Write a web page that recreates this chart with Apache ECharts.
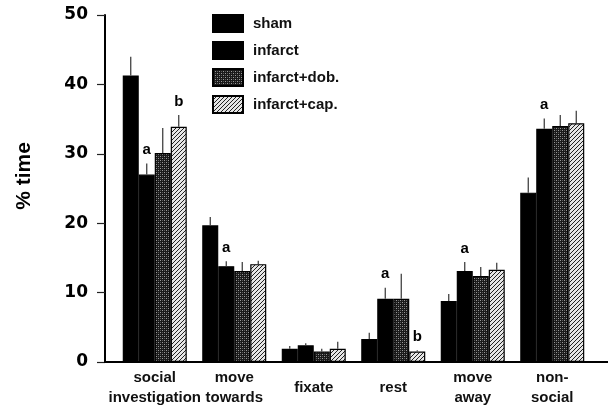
<!DOCTYPE html>
<html>
<head>
<meta charset="utf-8">
<script src="https://cdn.jsdelivr.net/npm/echarts@6/dist/echarts.min.js"></script>
<style>html,body{margin:0;padding:0;background:#fff;}#c{width:610px;height:411px;}</style>
</head>
<body>
<div id="c"></div>
<script>
const categories = ['social\ninvestigation', 'move\ntowards', 'fixate', 'rest', 'move\naway', 'non-\nsocial'];
const seriesNames = ['sham', 'infarct', 'infarct+dob.', 'infarct+cap.'];
const sham = [41.3, 19.7, 1.9, 3.3, 8.8, 24.4];
const shamErr = [2.7, 1.2, 0.4, 0.9, 1.0, 2.2];
const infarct = [27.0, 13.8, 2.4, 9.1, 13.1, 33.6];
const infarctErr = [1.6, 0.7, 0.3, 1.6, 1.3, 1.5];
const dob = [30.1, 13.1, 1.5, 9.1, 12.4, 34.0];
const dobErr = [3.6, 1.3, 0.4, 3.6, 1.3, 1.6];
const cap = [33.9, 14.1, 1.9, 1.5, 13.3, 34.4];
const capErr = [1.7, 0.5, 1.0, 0.2, 1.0, 1.8];
const shamSig = ['', '', '', '', '', ''];
const infarctSig = ['a', 'a', '', 'a', 'a', 'a'];
const dobSig = ['', '', '', '', '', ''];
const capSig = ['b', '', '', 'b', '', ''];
const yTicks = [0, 10, 20, 30, 40, 50];

function makeStipple() {
  const c = document.createElement('canvas');
  c.width = 4; c.height = 4;
  const g = c.getContext('2d');
  g.fillStyle = '#1a1a1a';
  g.fillRect(0, 0, 4, 4);
  g.fillStyle = '#9a9a9a';
  g.fillRect(0, 0, 1, 1);
  g.fillRect(2, 2, 1, 1);
  g.fillStyle = '#5a5a5a';
  g.fillRect(2, 0, 1, 1);
  g.fillRect(0, 2, 1, 1);
  return c;
}
function makeHatch() {
  const n = 4;
  const c = document.createElement('canvas');
  c.width = n; c.height = n;
  const g = c.getContext('2d');
  g.fillStyle = '#e6e6e6';
  g.fillRect(0, 0, n, n);
  g.fillStyle = '#222';
  for (let i = 0; i < n; i++) {
    g.fillRect(n - 1 - i, i, 1, 1);
  }
  return c;
}

const fills = [
  '#000',
  '#000',
  { image: makeStipple(), repeat: 'repeat' },
  { image: makeHatch(), repeat: 'repeat' }
];
const values = [sham, infarct, dob, cap];
const errs = [shamErr, infarctErr, dobErr, capErr];
const sigs = [shamSig, infarctSig, dobSig, capSig];
const BAR_W = 16;
const FONT = '"Liberation Sans", Arial, sans-serif';

const chart = echarts.init(document.getElementById('c'), null, { renderer: 'canvas' });

const series = [];
values.forEach((vals, s) => {
  series.push({
    name: seriesNames[s],
    type: 'bar',
    data: vals,
    barWidth: BAR_W,
    barGap: '0%',
    itemStyle: { color: fills[s], borderColor: '#000', borderWidth: 1.2 },
    emphasis: { disabled: true },
    z: 2
  });
});
values.forEach((vals, s) => {
  series.push({
    type: 'custom',
    data: vals.map((v, i) => [i, v, errs[s][i], i]),
    z: 4,
    silent: true,
    renderItem: function (params, api) {
      const idx = api.value(0);
      const v = api.value(1);
      const e = api.value(2);
      const p0 = api.coord([idx, v]);
      const p1 = api.coord([idx, v + e]);
      const x = p0[0] + (s - 1.5) * BAR_W;
      const children = [{
        type: 'line',
        shape: { x1: x, y1: p0[1], x2: x, y2: p1[1] },
        style: { stroke: '#333', lineWidth: 1.2 }
      }];
      const lab = sigs[s][params.dataIndex];
      if (lab) {
        children.push({
          type: 'text',
          style: {
            x: x, y: p1[1] - 6, text: lab,
            align: 'center', verticalAlign: 'bottom',
            font: 'bold 15px ' + FONT, fill: '#000'
          }
        });
      }
      return { type: 'group', children: children };
    }
  });
});

chart.setOption({
  animation: false,
  backgroundColor: '#fff',
  grid: { left: 115, right: 18, top: 15, bottom: 49, containLabel: false },
  legend: {
    data: seriesNames,
    orient: 'vertical',
    left: 212,
    top: 14,
    padding: 0,
    itemWidth: 30,
    itemHeight: 17,
    itemGap: 8,
    selectedMode: false,
    icon: 'rect',
    textStyle: { fontFamily: FONT, fontWeight: 'bold', fontSize: 15, color: '#111', padding: [0, 0, 0, 5] }
  },
  xAxis: {
    type: 'category',
    data: categories,
    axisLine: { show: false },
    axisTick: { show: false },
    axisLabel: {
      interval: 0,
      fontFamily: FONT,
      fontWeight: 'bold',
      fontSize: 15,
      lineHeight: 20,
      color: '#111',
      verticalAlign: 'middle',
      margin: 26
    },
    splitLine: { show: false }
  },
  yAxis: {
    type: 'value',
    min: yTicks[0],
    max: yTicks[yTicks.length - 1],
    interval: 10,
    offset: 10,
    name: '% time',
    nameLocation: 'middle',
    nameGap: 70,
    nameRotate: 90,
    nameTextStyle: { fontFamily: FONT, fontWeight: 'bold', fontSize: 21, color: '#000', padding: [0, 0, 0, 25] },
    axisLine: { show: true, lineStyle: { color: '#000', width: 2 } },
    axisTick: { show: true, inside: false, length: 8, lineStyle: { color: '#222', width: 1.2 } },
    axisLabel: { fontFamily: 'DejaVu Sans', fontWeight: 'bold', fontSize: 17, color: '#000', margin: 17 },
    splitLine: { show: false }
  },
  series: series
});

const y0 = chart.convertToPixel({ yAxisIndex: 0 }, 0);
chart.setOption({
  graphic: [{
    type: 'line',
    z: 10,
    shape: { x1: 104, y1: y0, x2: 608, y2: y0 },
    style: { stroke: '#000', lineWidth: 2 }
  }]
});
</script>
</body>
</html>
